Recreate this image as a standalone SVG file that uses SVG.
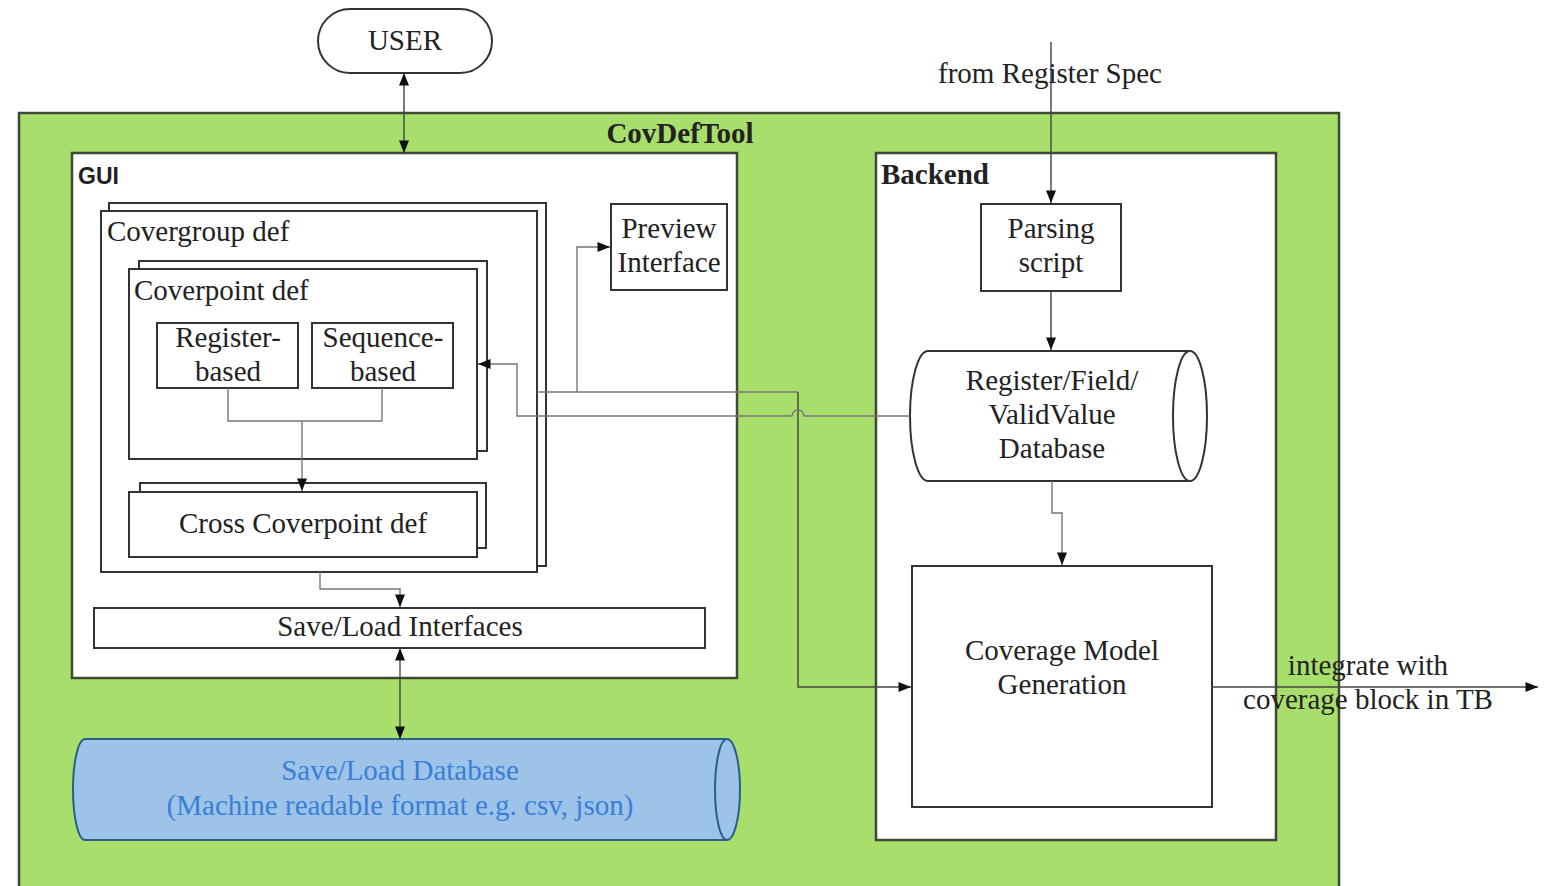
<svg xmlns="http://www.w3.org/2000/svg" width="1552" height="886" viewBox="0 0 1552 886">
<defs>
<marker id="arr" viewBox="0 0 10 8" refX="10" refY="4" markerWidth="13" markerHeight="10" markerUnits="userSpaceOnUse" orient="auto-start-reverse">
<path d="M0,0 L10,4 L0,8 z" fill="#111"/>
</marker>
<style>
.t{font-family:"Liberation Serif","Times New Roman",serif;font-size:29px;fill:#222}
.m{text-anchor:middle}
.b{font-weight:bold}
.box{fill:#fff;stroke:#333;stroke-width:2}
.cont{fill:#fff;stroke:#3f4a36;stroke-width:2.5}
.c{fill:none;stroke:#444;stroke-width:1.4}
.cg{fill:none;stroke:#777;stroke-width:1.4}
.a{marker-end:url(#arr)}
.a2{marker-start:url(#arr);marker-end:url(#arr)}
</style>
</defs>
<rect width="1552" height="886" fill="#fff"/>

<g id="covdeftool">
<rect x="19" y="113" width="1320" height="790" fill="#a8de6c" stroke="#3f4a36" stroke-width="2.5"/>
<text class="t b m" x="680" y="143">CovDefTool</text>
</g>

<g id="user">
<rect x="318" y="9" width="174" height="64" rx="32" ry="32" class="box"/>
<text class="t m" x="405" y="50">USER</text>
</g>

<g id="gui">
<rect x="72" y="153" width="665" height="525" class="cont"/>
<text x="78" y="184" style="font-family:'Liberation Sans',Arial,sans-serif;font-size:23px;font-weight:bold;fill:#222">GUI</text>
</g>

<g id="covergroup">
<rect x="109" y="203" width="437" height="363" class="box"/>
<rect x="101" y="211" width="436" height="361" class="box"/>
<text class="t" x="107" y="241">Covergroup def</text>
</g>

<g id="coverpoint">
<rect x="139" y="261" width="348" height="190" class="box"/>
<rect x="129" y="269" width="348" height="190" class="box"/>
<text class="t" x="134" y="300">Coverpoint def</text>
</g>

<g id="register-based">
<rect x="157" y="323" width="141" height="65" class="box"/>
<text class="t m" x="228" y="347">Register-</text>
<text class="t m" x="228" y="381">based</text>
</g>

<g id="sequence-based">
<rect x="312" y="323" width="141" height="65" class="box"/>
<text class="t m" x="383" y="347">Sequence-</text>
<text class="t m" x="383" y="381">based</text>
</g>

<g id="cross-coverpoint">
<rect x="140" y="483" width="346" height="65" class="box"/>
<rect x="129" y="492" width="348" height="65" class="box"/>
<text class="t m" x="303" y="533">Cross Coverpoint def</text>
</g>

<g id="preview">
<rect x="611" y="204" width="116" height="86" class="box"/>
<text class="t m" x="669" y="238">Preview</text>
<text class="t m" x="669" y="272">Interface</text>
</g>

<g id="saveload-interfaces">
<rect x="94" y="608" width="611" height="40" class="box"/>
<text class="t m" x="400" y="636">Save/Load Interfaces</text>
</g>

<g id="saveload-db">
<path d="M85,739 L727,739 A13,50.5 0 0 1 727,840 L85,840 A12,50.5 0 0 1 85,739 Z" fill="#9dc3e8" stroke="#2d5f86" stroke-width="2"/>
<path d="M727,739 A12,50.5 0 0 0 727,840" fill="none" stroke="#2d5f86" stroke-width="2"/>
<text class="t m" x="400" y="780" style="fill:#3a7fd6">Save/Load Database</text>
<text class="t m" x="400" y="815" style="fill:#3a7fd6">(Machine readable format e.g. csv, json)</text>
</g>

<g id="backend">
<rect x="876" y="153" width="400" height="687" class="cont"/>
<text class="t b" x="881" y="184">Backend</text>
</g>

<g id="parsing">
<rect x="981" y="204" width="140" height="87" class="box"/>
<text class="t m" x="1051" y="238">Parsing</text>
<text class="t m" x="1051" y="272">script</text>
</g>

<g id="regdb">
<path d="M928,351 L1190,351 A17,65 0 0 1 1190,481 L928,481 A18,65 0 0 1 928,351 Z" class="box"/>
<path d="M1190,351 A17,65 0 0 0 1190,481" fill="none" stroke="#333" stroke-width="2"/>
<text class="t m" x="1052" y="390">Register/Field/</text>
<text class="t m" x="1052" y="424">ValidValue</text>
<text class="t m" x="1052" y="458">Database</text>
</g>

<g id="covmodel">
<rect x="912" y="566" width="300" height="241" class="box"/>
<text class="t m" x="1062" y="660">Coverage Model</text>
<text class="t m" x="1062" y="694">Generation</text>
</g>

<g id="connectors">
<path class="c a2" d="M404,73 L404,153"/>
<path class="c a2" d="M400,648 L400,739"/>
<path class="cg a" d="M228,388 L228,421 L382,421 L382,388 M302,421 L302,491"/>
<path class="cg a" d="M320,572 L320,589 L400,589 L400,607"/>
<path class="cg" d="M537,392 L798,392"/>
<path class="cg a" d="M577,392 L577,247 L610,247"/>
<path class="c a" d="M798,392 L798,687 L911,687"/>
<path class="cg a" d="M910,416 L804,416 A6,6 0 0 0 792,416 L517,416 L517,364 L478,364"/>
<path class="c a" d="M1051,42 L1051,203"/>
<path class="c a" d="M1051,291 L1051,350"/>
<path class="cg a" d="M1052,481 L1052,513 L1062,513 L1062,565"/>
<path class="c a" d="M1212,687 L1538,687"/>
</g>

<g id="labels">
<text class="t m" x="1050" y="83">from Register Spec</text>
<text class="t m" x="1368" y="675">integrate with</text>
<text class="t m" x="1368" y="709">coverage block in TB</text>
</g>
</svg>
